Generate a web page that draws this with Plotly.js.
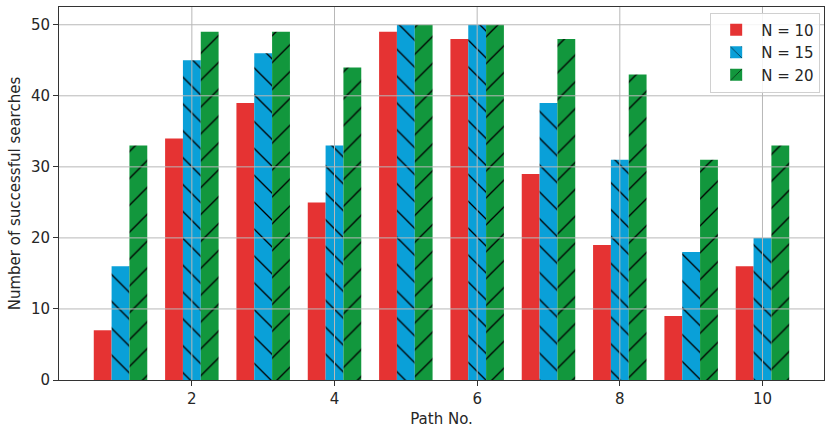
<!DOCTYPE html>
<html><head><meta charset="utf-8">
<script src="https://cdn.plot.ly/plotly-3.0.1.min.js"></script>
<style>body{margin:0;padding:0;background:#fff}#chart{width:827px;height:429px}</style>
</head><body><div id="chart"></div>
<script>
const paths = [1,2,3,4,5,6,7,8,9,10];
const n10 = [7,34,39,25,49,48,29,19,9,16];
const n15 = [16,45,46,33,50,50,39,31,18,20];
const n20 = [33,49,49,44,50,50,48,43,31,33];
const seriesNames = ["N = 10","N = 15","N = 20"];
const xTicks = [2,4,6,8,10];
const yTicks = [0,10,20,30,40,50];

const font = {family:"DejaVu Sans", size:15, color:"#262626"};
const mk = (y, name, color, shape) => ({
  type:"bar", x:paths, y:y, name:name,
  marker:{color:color, line:{width:0},
    pattern: shape ? {shape:shape, fgcolor:"#000", fgopacity:1, bgcolor:color, size:19, solidity:0.07, fillmode:"overlay"} : undefined}
});
const traces = [
  mk(n10, seriesNames[0], "#e53333", ""),
  mk(n15, seriesNames[1], "#0aa0d8", "\\"),
  mk(n20, seriesNames[2], "#12973d", "/")
];
const shapes = [];
xTicks.forEach(v=>shapes.push({type:"line", xref:"x", yref:"paper", x0:v, x1:v, y0:0, y1:1, layer:"above", line:{color:"#b8b8b8", width:1}}));
yTicks.slice(1).forEach(v=>shapes.push({type:"line", xref:"paper", yref:"y", x0:0, x1:1, y0:v, y1:v, layer:"above", line:{color:"#b8b8b8", width:1}}));

const layout = {
  width:827, height:429,
  margin:{l:59, r:3, t:7, b:49},
  paper_bgcolor:"#fff", plot_bgcolor:"#fff",
  font:font,
  barmode:"group", bargap:0.25, bargroupgap:0,
  shapes:shapes,
  xaxis:{range:[0.1375,10.8625], tickvals:xTicks, ticktext:xTicks.map(String),
    showgrid:false, zeroline:false, showline:true, mirror:true, linecolor:"#333", linewidth:1,
    ticks:"outside", ticklen:5, tickcolor:"#333",
    title:{text:"Path No.", font:font, standoff:6}},
  yaxis:{range:[0,52.5], tickvals:yTicks, ticktext:yTicks.map(String),
    showgrid:false, zeroline:false, showline:true, mirror:true, linecolor:"#333", linewidth:1,
    ticks:"outside", ticklen:5, tickcolor:"#333",
    title:{text:"Number of successful searches", font:font, standoff:6}},
  legend:{x:0.995, y:0.985, xanchor:"right", yanchor:"top", bgcolor:"rgba(255,255,255,0.85)",
    bordercolor:"#d0d0d0", borderwidth:1, font:font, tracegroupgap:0, itemwidth:40},
  showlegend:true
};
Plotly.newPlot("chart", traces, layout, {displayModeBar:false, staticPlot:true});
</script></body></html>
